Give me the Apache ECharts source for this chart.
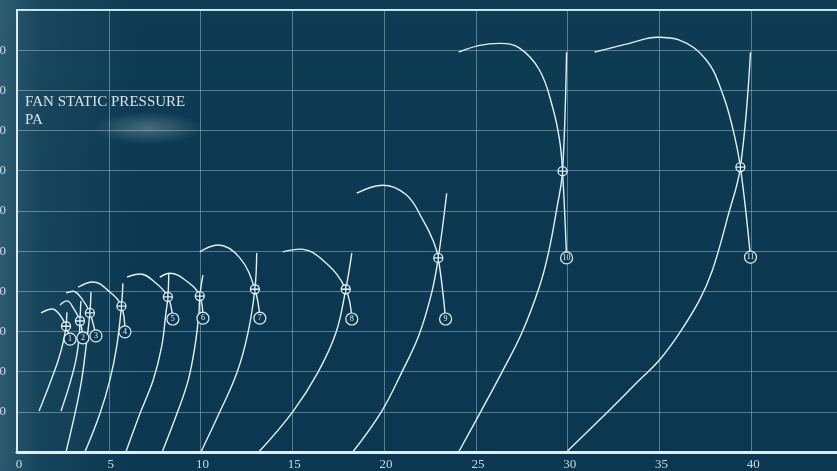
<!DOCTYPE html>
<html><head><meta charset="utf-8">
<script src="https://cdn.jsdelivr.net/npm/echarts/dist/echarts.min.js"></script>
<style>
html,body{margin:0;padding:0;background:#0b3850;overflow:hidden;}
#c{width:837px;height:471px;background:
 radial-gradient(ellipse 55px 16px at 148px 128px, rgba(190,215,225,0.32), rgba(190,215,225,0) 100%),
 linear-gradient(to right, rgba(70,120,140,0.55) 0px, rgba(70,120,140,0.18) 40px, rgba(70,120,140,0) 140px),
 linear-gradient(to bottom, rgba(40,90,110,0.12), rgba(0,0,0,0) 60%),
 #0b3850;}
</style></head>
<body><div id="c"></div>
<script>
// x: air volume, y: fan static pressure (Pa)
const xTicks = [0, 5, 10, 15, 20, 25, 30, 35, 40, 45];
const yTicks = [0, 100, 200, 300, 400, 500, 600, 700, 800, 900, 1000, 1100];

// system (resistance) curves
const system1 = [[1.20,102],[1.80,172],[2.25,229],[2.52,274],[2.67,313],[2.72,348]];
const system2 = [[2.40,102],[2.89,172],[3.21,229],[3.39,287],[3.43,326],[3.48,376]];
const system3 = [[2.67,0],[3.16,96],[3.52,179],[3.76,262],[3.97,346],[4.03,398]];
const system4 = [[3.70,0],[4.52,96],[5.06,179],[5.43,262],[5.69,363],[5.77,420]];
const system5 = [[5.93,0],[6.70,96],[7.42,179],[7.88,262],[8.11,345],[8.22,386],[8.27,445]];
const system6 = [[7.91,0],[8.75,100],[9.33,179],[9.69,262],[9.91,345],[9.96,388],[10.13,440]];
const system7 = [[10.02,0],[11.05,100],[11.98,197],[12.58,296],[12.96,405],[13.06,495]];
const system8 = [[13.17,0],[15.02,100],[16.38,197],[17.37,296],[17.91,405],[18.24,495]];
const system9 = [[18.29,0],[19.85,100],[20.98,200],[21.90,291],[22.59,396],[22.95,483],[23.41,644]];
const system10 = [[24.06,0],[25.26,100],[26.40,197],[27.50,296],[28.45,410],[28.95,495],[29.42,609],[29.72,699],[29.94,995]];
const system11 = [[29.94,0],[31.74,80],[33.91,179],[35.00,229],[36.09,296],[37.18,378],[37.89,453],[38.75,590],[39.41,709],[39.96,995]];

// fan curves (ending at their numbered tag)
const fan1 = [[1.31,346],[1.91,356],[2.34,341],[2.67,313],[2.89,281]];
const fan2 = [[2.34,366],[2.72,376],[3.10,356],[3.43,326],[3.59,284]];
const fan3 = [[2.67,396],[3.05,400],[3.54,381],[3.97,346],[4.30,289]];
const fan4 = [[3.32,410],[4.14,423],[5.06,398],[5.69,363],[5.88,299]];
const fan5 = [[5.99,435],[6.70,443],[7.57,420],[8.22,386],[8.49,331]];
const fan6 = [[7.78,435],[8.33,445],[9.25,425],[9.96,388],[10.13,333]];
const fan7 = [[9.96,498],[10.94,515],[12.14,483],[12.96,405],[13.23,333]];
const fan8 = [[14.48,498],[15.41,505],[16.77,473],[17.91,405],[18.24,331]];
const fan9 = [[18.51,644],[19.92,664],[21.21,640],[22.12,577],[22.66,527],[22.95,483],[23.35,331]];
const fan10 = [[24.06,995],[25.20,1012],[26.29,1017],[27.38,1005],[28.47,950],[29.18,858],[29.56,776],[29.72,699],[29.94,483]];
const fan11 = [[31.46,995],[33.37,1017],[34.89,1032],[36.09,1025],[37.56,975],[38.43,893],[38.98,808],[39.41,709],[39.96,485]];

// operating points and numbered tags
const operatingPoints = [[2.67,313],[3.43,326],[3.97,346],[5.69,363],[8.22,386],[9.96,388],[12.96,405],[17.91,405],[22.95,483],[29.72,699],[39.41,709]];
const tagPoints = [[2.89,281],[3.59,284],[4.30,289],[5.88,299],[8.49,331],[10.13,333],[13.23,333],[18.24,331],[23.35,331],[29.94,483],[39.96,485]];
const tagLabels = ['1','2','3','4','5','6','7','8','9','10','11'];

const systemCurves = [system1,system2,system3,system4,system5,system6,system7,system8,system9,system10,system11];
const fanCurves = [fan1,fan2,fan3,fan4,fan5,fan6,fan7,fan8,fan9,fan10,fan11];

const BG = '#0b3850';
const LINE = '#e2f0f4';
const serif = '"Liberation Serif", "DejaVu Serif", serif';

const series = [];
systemCurves.concat(fanCurves).forEach(d => {
  series.push({type:'line', data:d, smooth:0.4, symbol:'none', silent:true,
    lineStyle:{color:LINE, width:1.4}, z:2});
});
series.push({type:'scatter', data:operatingPoints, z:5,
  symbol:'path://M0,-10 A10,10 0 1,1 0,10 A10,10 0 1,1 0,-10 Z M-10,0 L10,0 M0,-10 L0,10',
  symbolSize:9,
  itemStyle:{color:BG, borderColor:LINE, borderWidth:1.3, opacity:1}});
series.push({type:'scatter', data:tagPoints.map((p,i)=>({value:p, name:tagLabels[i]})), z:5,
  symbol:'circle', symbolSize:12,
  itemStyle:{color:BG, borderColor:LINE, borderWidth:1.2, opacity:1},
  label:{show:true, position:'inside', formatter:p=>p.name, color:'#e8f2f5',
    fontSize:8, fontFamily:serif}});

const chart = echarts.init(document.getElementById('c'), null, {renderer:'canvas'});
chart.setOption({
  backgroundColor:'transparent',
  animation:false,
  grid:{left:17, right:-6, top:10, bottom:19, containLabel:false, outerBoundsMode:'none',
    show:true, borderColor:'#d3e8ef', borderWidth:2, backgroundColor:'transparent'},
  xAxis:{type:'value', min:xTicks[0], max:xTicks[xTicks.length-1], interval:5,
    axisLine:{show:true, onZero:false, lineStyle:{color:'#e0eef3', width:3}},
    axisTick:{show:false},
    splitLine:{show:true, lineStyle:{color:'rgba(170,210,225,0.45)', width:1}},
    axisLabel:{color:'#c9d8de', fontSize:13, fontFamily:serif, margin:6, padding:[0,0,0,4]}},
  yAxis:{type:'value', min:yTicks[0], max:yTicks[yTicks.length-1], interval:100,
    axisLine:{show:true, lineStyle:{color:'#d8ebf1', width:2}},
    axisTick:{show:false},
    splitLine:{show:true, lineStyle:{color:'rgba(170,210,225,0.45)', width:1}},
    axisLabel:{color:'#d0dde3', fontSize:13, fontFamily:serif, margin:11, formatter:v=>String(v),
      showMinLabel:false, showMaxLabel:false}},
  graphic:[{type:'text', left:25, top:93, z:10,
    style:{text:'FAN STATIC PRESSURE\nPA', fill:'#d8e2e6', font:'15px "Liberation Serif"', lineHeight:18}}],
  series:series
});
</script></body></html>
